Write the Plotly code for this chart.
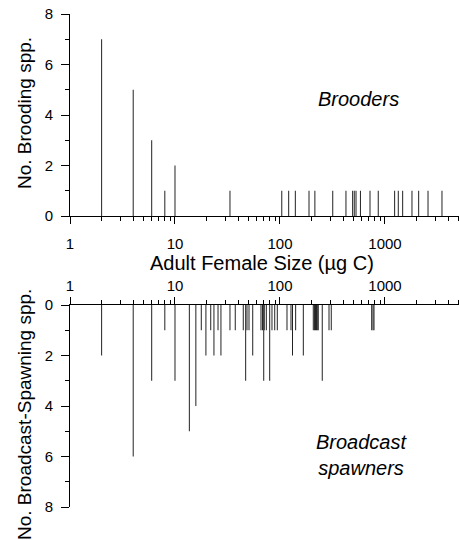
import plotly.graph_objects as go

# ---- data (size in µg C, number of species) ----
brood_size = [2, 4, 6, 8, 10, 33.4, 104, 121, 140, 189, 215, 318, 425, 492, 510, 530,
              584, 720, 863, 1236, 1339, 1474, 1808, 2093, 2570, 3490]
brood_count = [7, 5, 3, 1, 2, 1, 1, 1, 1, 1, 1, 1, 1, 1, 1, 1,
               1, 1, 1, 1, 1, 1, 1, 1, 1, 1]

spawn_size = [2, 4, 6, 8, 10, 13.7, 15.8, 17.8, 19.7, 21.9, 23.5, 25.7, 27.4,
              33.4, 37.5, 44.7, 47.1, 48.5, 50.7, 55.0, 65.9, 68.1, 70.0, 70.8,
              74.1, 79.8, 83.9, 89.1, 94.3, 116.6, 127.3, 131.6, 141, 166.8,
              207.6, 213, 218, 222.6, 226.6, 231.6, 252.7, 293, 308, 747, 769, 786]
spawn_count = [2, 6, 3, 1, 3, 5, 4, 1, 2, 1, 2, 1, 2,
               1, 1, 1, 3, 1, 1, 2, 1, 1, 3, 1,
               1, 3, 1, 1, 1, 1, 1, 2, 1, 2,
               1, 1, 1, 1, 1, 1, 3, 1, 1, 1, 1, 1]

x_tickvals = [1, 10, 100, 1000]
x_ticktext = ["1", "10", "100", "1000"]
x_minor = [m * 10 ** d for d in range(4) for m in range(2, 10)]
y_tickvals = [0, 2, 4, 6, 8]
y_minor = [1, 3, 5, 7]

FONT = "Liberation Sans, Arial, sans-serif"
W, H = 459, 540
LINE = "#222222"


def px(x):
    return x / W


def py(y):
    return 1 - y / H


def spikes(xs, hs):
    xx, yy = [], []
    for x, h in zip(xs, hs):
        xx += [x, x, None]
        yy += [0, h, None]
    return xx, yy


fig = go.Figure()
bx, by = spikes(brood_size, brood_count)
fig.add_trace(go.Scatter(x=bx, y=by, mode="lines", line=dict(color=LINE, width=1),
                         xaxis="x", yaxis="y", showlegend=False, hoverinfo="skip"))
sx, sy = spikes(spawn_size, spawn_count)
fig.add_trace(go.Scatter(x=sx, y=sy, mode="lines", line=dict(color=LINE, width=1),
                         xaxis="x2", yaxis="y2", showlegend=False, hoverinfo="skip"))

xr = [0, 3.705]

common_x = dict(type="log", range=xr, domain=[px(70), 1], showline=True, linecolor="black",
                linewidth=1, showgrid=False, zeroline=False, ticks="outside", ticklen=7,
                tickcolor="black", tickwidth=1, tickmode="array", tickvals=x_tickvals,
                ticktext=x_ticktext, tickfont=dict(family=FONT, size=15, color="black"),
                automargin=False, ticklabeloverflow="allow",
                minor=dict(tickmode="array", tickvals=x_minor, ticks="outside", ticklen=4,
                           tickcolor="black", tickwidth=1, showgrid=False))
common_y = dict(showline=True, linecolor="black", linewidth=1, showgrid=False,
                zeroline=False, ticks="outside", ticklen=8, tickcolor="black", tickwidth=1,
                tickmode="array", tickvals=y_tickvals, ticklabelstandoff=5,
                tickfont=dict(family=FONT, size=15, color="black"), automargin=False,
                ticklabeloverflow="allow",
                minor=dict(tickmode="array", tickvals=y_minor, ticks="outside", ticklen=4,
                           tickcolor="black", tickwidth=1, showgrid=False))

fig.update_layout(
    width=W, height=H, margin=dict(l=0, r=0, t=0, b=0),
    paper_bgcolor="white", plot_bgcolor="white", showlegend=False,
    xaxis=dict(anchor="y", side="bottom", ticklabelstandoff=7, **common_x),
    yaxis=dict(anchor="x", domain=[py(216), py(14)], range=[0, 8], **common_y),
    xaxis2=dict(anchor="y2", side="top", ticklabelstandoff=0, **common_x),
    yaxis2=dict(anchor="x2", domain=[py(507), py(305)], range=[8, 0], **common_y),
)

ann_font = dict(family=FONT, size=20, color="black")
ytitle_font = dict(family=FONT, size=19, color="black")
fig.add_annotation(text="Adult Female Size (µg C)", xref="paper", yref="paper",
                   x=px(262), y=py(263), showarrow=False, font=ann_font,
                   xanchor="center", yanchor="middle")
fig.add_annotation(text="No. Brooding spp.", xref="paper", yref="paper",
                   x=px(24), y=py(113), showarrow=False, font=ytitle_font,
                   textangle=-90, xanchor="center", yanchor="middle")
fig.add_annotation(text="No. Broadcast-Spawning spp.", xref="paper", yref="paper",
                   x=px(24), y=py(415), showarrow=False, font=ytitle_font,
                   textangle=-90, xanchor="center", yanchor="middle")
fig.add_annotation(text="<i>Brooders</i>", xref="paper", yref="paper",
                   x=px(358), y=py(99), showarrow=False, font=ann_font,
                   xanchor="center", yanchor="middle")
fig.add_annotation(text="<i>Broadcast</i><br><i>spawners</i>", xref="paper", yref="paper",
                   x=px(361), y=py(455), showarrow=False, font=ann_font,
                   xanchor="center", yanchor="middle")

fig.write_html("out.html", config={"displayModeBar": False},
               post_script="document.body.style.margin='0';document.body.style.overflow='hidden';")
